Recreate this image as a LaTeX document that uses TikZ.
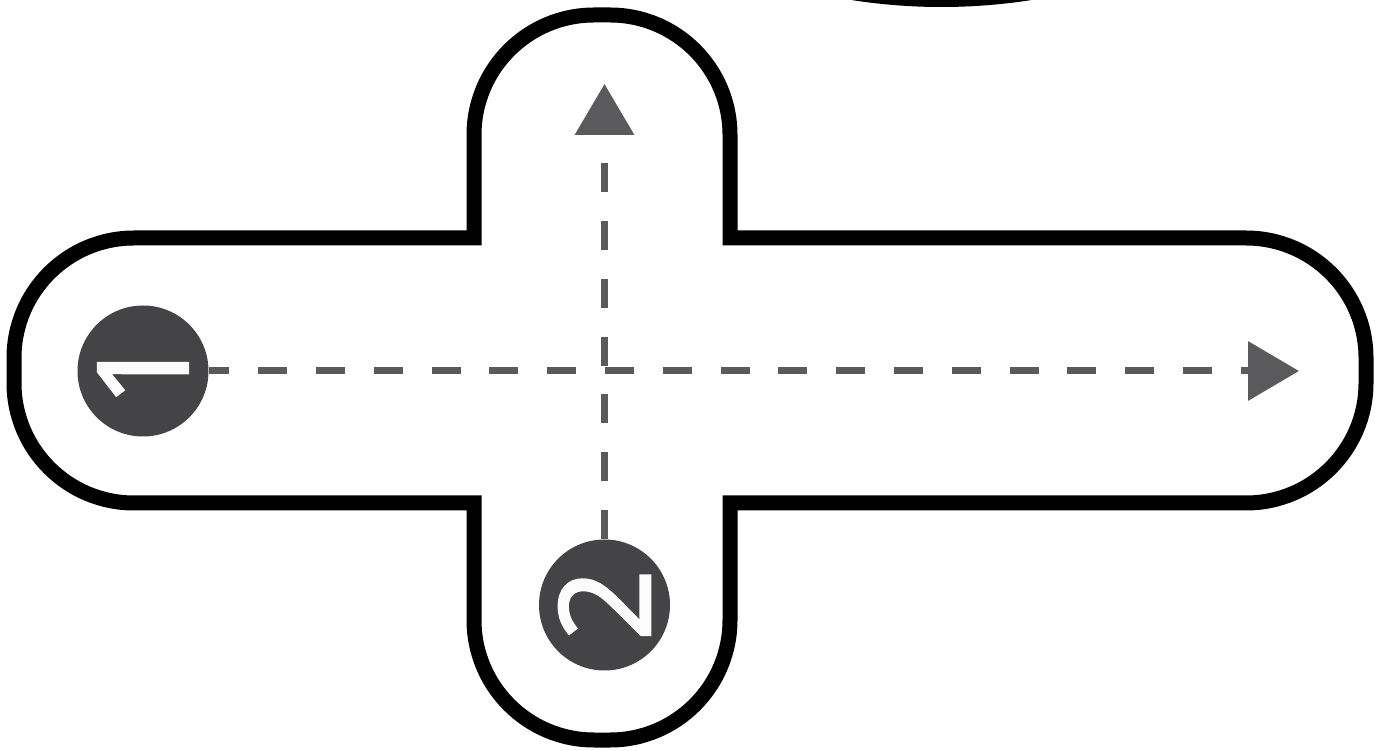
\documentclass[tikz,border=0pt]{standalone}
\usepackage{fontspec}
\newfontfamily\digitfont[FakeBold=2]{Open Sans}
\usetikzlibrary{arrows.meta}
\definecolor{Ink}{HTML}{000000}
\definecolor{Dot}{HTML}{444446}
\definecolor{Trail}{HTML}{5A5A5C}
\definecolor{Glyph}{HTML}{FCFCFC}
\tikzset{
  stepdot/.style={circle,fill=Dot,minimum size=65.5pt,inner sep=0pt,text=Glyph,
    font=\digitfont\fontsize{63}{63}\selectfont,rotate=90},
  trail/.style={draw=Trail,line width=3.5pt,dash pattern=on 14.5pt off 14.4pt,
    -{Triangle[length=25.5pt,width=29pt]}},
}

\begin{document}
\begin{tikzpicture}[x=0.5pt,y=0.5pt]
\path[use as bounding box] (0,0) rectangle (1392,750);
\fill[white] (0,0) rectangle (1392,750);

% shape cut off at the top edge
\begin{scope}
\clip (0,0) rectangle (1392,750);
\fill[Ink] (941.5,1320) circle (577);
\end{scope}

% cross outline
\draw[Ink,line width=7.5pt,fill=white,line join=miter]
  (134,512) -- (474,512) -- (474,615) arc[start angle=180,end angle=90,radius=120]
  -- (610,735) arc[start angle=90,end angle=0,radius=120]
  -- (730,512) -- (1246,512) arc[start angle=90,end angle=0,radius=120]
  -- (1366,367) arc[start angle=0,end angle=-90,radius=120]
  -- (730,247) -- (730,130) arc[start angle=0,end angle=-90,radius=120]
  -- (594,10) arc[start angle=-90,end angle=-180,radius=120]
  -- (474,247) -- (134,247) arc[start angle=-90,end angle=-180,radius=120]
  -- (14,392) arc[start angle=180,end angle=90,radius=120] -- cycle;

% numbered steps
\node[stepdot] (first) at (143,379) {1};
\node[stepdot] (second) at (604.5,145) {2};
\coordinate (firstend) at (1299,379);
\coordinate (secondend) at (604.5,666);

\draw[trail,dash phase=4.25pt] (first) -- (firstend);
\draw[trail] (second) -- (secondend);
\end{tikzpicture}
\end{document}
